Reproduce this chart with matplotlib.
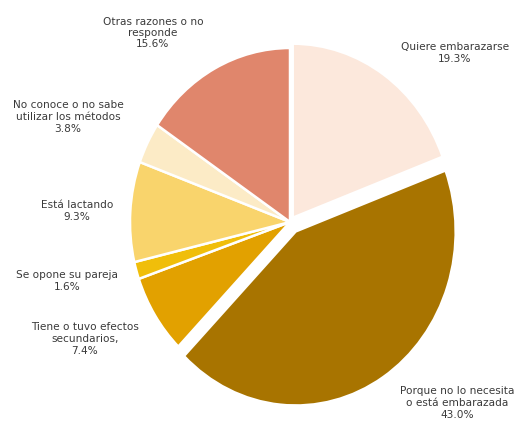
import matplotlib
matplotlib.use("Agg")
import matplotlib.pyplot as plt

# Reasons for not using contraception (share of women, %)
categories = [
    "Quiere embarazarse",
    "Porque no lo necesita\no está embarazada",
    "Tiene o tuvo efectos\nsecundarios,",
    "Se opone su pareja",
    "Está lactando",
    "No conoce o no sabe\nutilizar los métodos",
    "Otras razones o no\nresponde",
]
values = [19.3, 43.0, 7.4, 1.6, 9.3, 3.8, 15.6]
colors = ["#FCE8DC", "#A87400", "#E2A100", "#F0BE0A", "#F9D46C", "#FCEBC6", "#E0866C"]
explode = [0.03, 0.065, 0, 0, 0, 0, 0]

# label anchor positions in pixels (x from left, y from top)
label_px = [(455, 53), (457, 403), (85, 339), (67, 281), (77, 211), (68, 117), (153, 33)]
label_spacing = [1.3, 1.25, 1.3, 1.3, 1.35, 1.25, 1.1]

W, H = 520, 425
fig = plt.figure(figsize=(W / 100, H / 100), dpi=100)
ax = fig.add_axes([0, 0, 1, 1])

ax.pie(values, colors=colors, explode=explode, startangle=90, counterclock=False,
       radius=1.0, center=(0, 0),
       wedgeprops=dict(edgecolor="white", linewidth=1.8))

# slightly taller than wide, centred at (290, 222) px
cx, cy, rx, ry = 290, 222, 160, 174
ax.set_aspect("auto")
ax.set_xlim(-cx / rx, (W - cx) / rx)
ax.set_ylim(-(H - cy) / ry, cy / ry)
ax.axis("off")

for name, val, (px, py), ls in zip(categories, values, label_px, label_spacing):
    fig.text(px / W, 1 - py / H, f"{name}\n{val:.1f}%", ha="center", va="center",
             fontsize=7.6, color="#3a3a3a", linespacing=ls, family="DejaVu Sans")

fig.savefig("out.png", dpi=100, facecolor="white")
